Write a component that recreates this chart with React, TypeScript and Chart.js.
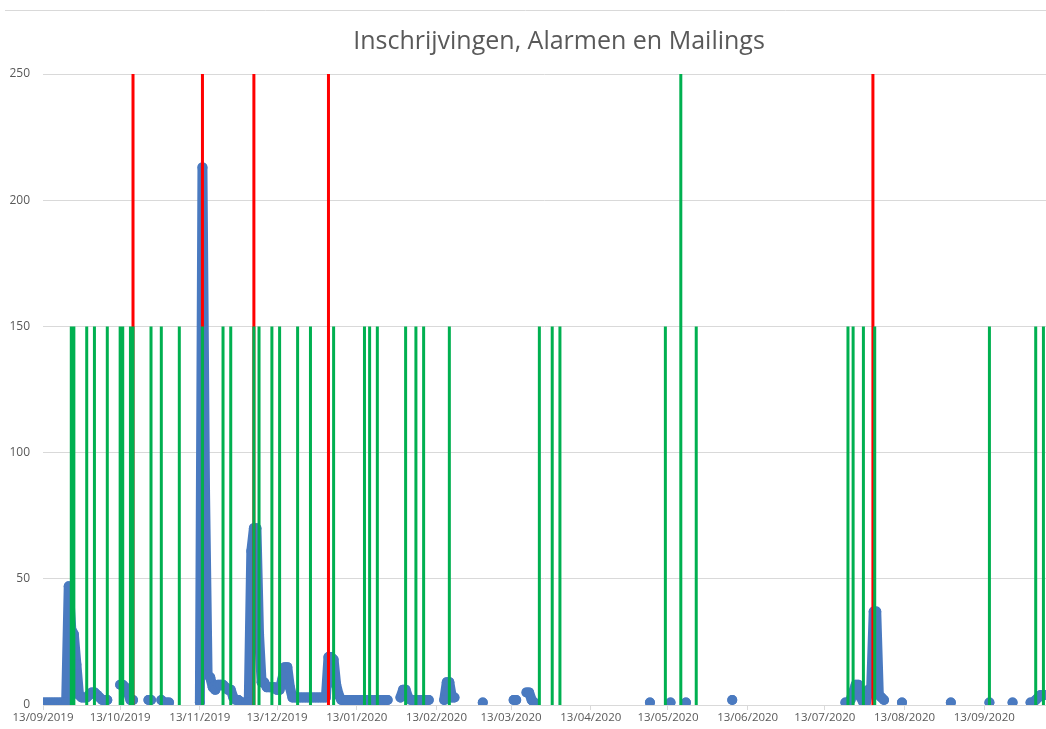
import React, { useEffect, useRef } from "react";
import { Chart, registerables } from "chart.js";

Chart.register(...registerables);

const TITLE = "Inschrijvingen, Alarmen en Mailings";

// x axis: days after 13/09/2019
const tickDays = [0, 30, 61, 91, 122, 153, 182, 213, 243, 274, 304, 335, 366];
const tickLabels = [
  "13/09/2019", "13/10/2019", "13/11/2019", "13/12/2019", "13/01/2020", "13/02/2020",
  "13/03/2020", "13/04/2020", "13/05/2020", "13/06/2020", "13/07/2020", "13/08/2020", "13/09/2020",
];
const yTicks = [0, 50, 100, 150, 200, 250];

// Inschrijvingen: runs of consecutive days (start day, daily counts)
const runStarts = [0, 30, 41, 46, 61, 139, 156, 171, 183, 188, 236, 244, 250, 268, 312, 334, 353, 368, 377, 384];
const runValues: number[][] = [
  [1, 1, 1, 1, 1, 1, 1, 1, 1, 1, 47, 30, 28, 16, 4, 3, 3, 3, 4, 5, 5, 4, 3, 2, 2, 2],
  [8, 8, 7, 5, 2, 2],
  [2, 2],
  [2, 1, 1, 1],
  [1, 213, 85, 12, 11, 7, 6, 8, 8, 8, 7, 6, 6, 3, 2, 2, 1, 1, 1, 1,
    61, 70, 70, 28, 9, 9, 7, 7, 7, 7, 6, 6, 10, 15, 15, 7,
    3, 3, 3, 3, 3, 3, 3, 3, 3, 3, 3, 3, 3, 3,
    19, 19, 18, 8, 4,
    2, 2, 2, 2, 2, 2, 2, 2, 2, 2, 2, 2, 2, 2, 2, 2, 2, 2, 2],
  [3, 6, 6, 3, 2, 2, 2, 2, 2, 2, 2, 2],
  [2, 9, 9, 3, 3],
  [1],
  [2, 2],
  [5, 5, 2, 1],
  [1],
  [1],
  [1],
  [2],
  [1, 1, 2, 5, 8, 8, 3, 1, 1, 6, 6, 37, 37, 4, 3, 2],
  [1],
  [1],
  [1],
  [1],
  [1, 1, 2, 3, 4, 4, 4],
];

// Mailings (green) and alarms (red)
const mailingDays = [11, 12, 17, 20, 25, 30, 31, 34, 35, 42, 46, 53, 62, 70, 73, 82, 84, 89, 92, 99, 104, 113,
  125, 127, 130, 141, 145, 148, 158, 193, 198, 201, 242, 248, 254, 313, 315, 319, 323.4, 368, 386, 389];
const mailingValues = [150, 150, 150, 150, 150, 150, 150, 150, 150, 150, 150, 150, 150, 150, 150, 150, 150, 150,
  150, 150, 150, 150, 150, 150, 150, 150, 150, 150, 150, 150, 150, 150, 150, 250, 150, 150, 150, 150, 150, 150, 150, 150];
const alarmDays = [35, 62, 82, 111, 322.7];
const alarmValues = [250, 250, 250, 250, 250];

const BLUE = "#4A7AC0";
const GREEN = "#00B050";
const RED = "#FF0000";
const GREY_TEXT = "#595959";
const GRID = "#d9d9d9";

function buildRuns() {
  const pts: { x: number; y: number | null }[] = [];
  runStarts.forEach((s, i) => {
    runValues[i].forEach((v, j) => pts.push({ x: s + j, y: v }));
    pts.push({ x: s + runValues[i].length - 0.5, y: null });
  });
  return pts;
}

function buildVerticals(days: number[], vals: number[]) {
  const pts: { x: number; y: number | null }[] = [];
  days.forEach((d, i) => {
    pts.push({ x: d, y: 0 });
    pts.push({ x: d, y: vals[i] });
    pts.push({ x: d, y: null });
  });
  return pts;
}

const framePlugin = {
  id: "frame",
  afterLayout(chart: any) {
    if (chart.titleBlock) {
      chart.titleBlock.left = 72;
      chart.titleBlock.right = chart.width;
    }
  },
  beforeDraw(chart: any) {
    const ctx = chart.ctx;
    ctx.save();
    ctx.strokeStyle = GRID;
    ctx.lineWidth = 1;
    ctx.beginPath();
    ctx.moveTo(5, 10.5);
    ctx.lineTo(chart.width, 10.5);
    ctx.stroke();
    ctx.restore();
  },
};

export default function App() {
  const ref = useRef<HTMLCanvasElement | null>(null);

  useEffect(() => {
    document.body.style.margin = "0";
    if (!ref.current) return;
    const chart = new Chart(ref.current, {
      type: "line",
      data: {
        datasets: [
          {
            label: "Mailings",
            data: buildVerticals(mailingDays, mailingValues),
            borderColor: GREEN,
            borderWidth: 3,
            pointRadius: 0,
            spanGaps: false,
            order: 0,
          },
          {
            label: "Alarmen",
            data: buildVerticals(alarmDays, alarmValues),
            borderColor: RED,
            borderWidth: 3,
            pointRadius: 0,
            spanGaps: false,
            order: 1,
          },
          {
            label: "Inschrijvingen",
            data: buildRuns(),
            borderColor: BLUE,
            backgroundColor: BLUE,
            borderWidth: 10,
            borderJoinStyle: "round",
            borderCapStyle: "round",
            pointRadius: 5,
            pointBorderWidth: 0,
            pointBackgroundColor: BLUE,
            pointHoverRadius: 5,
            spanGaps: false,
            clip: { left: 0, right: 0, top: 10, bottom: 0 },
            order: 2,
          } as any,
        ],
      },
      options: {
        animation: false,
        responsive: false,
        events: [],
        layout: { autoPadding: false, padding: 0 },
        plugins: {
          legend: { display: false },
          tooltip: { enabled: false },
          title: {
            display: true,
            text: TITLE,
            color: GREY_TEXT,
            font: { family: "'Open Sans'", size: 25, weight: "normal" },
            padding: { top: 27, bottom: 17 },
          },
        },
        scales: {
          x: {
            type: "linear",
            min: 0,
            max: 390,
            afterBuildTicks: (axis: any) => {
              axis.ticks = tickDays.map((v) => ({ value: v }));
            },
            afterFit: (axis: any) => {
              axis.height = 24;
              axis.paddingLeft = 0;
              axis.paddingRight = 0;
            },
            ticks: {
              autoSkip: false,
              maxRotation: 0,
              padding: 1,
              color: GREY_TEXT,
              font: { family: "'Open Sans'", size: 11.5 },
              callback: (value: any) => {
                const i = tickDays.indexOf(Number(value));
                return i >= 0 ? tickLabels[i] : "";
              },
            },
            grid: {
              display: true,
              drawOnChartArea: false,
              drawTicks: true,
              tickLength: 5,
              color: GRID,
            },
            border: { display: true, color: GRID },
          },
          y: {
            type: "linear",
            min: 0,
            max: 250,
            afterBuildTicks: (axis: any) => {
              axis.ticks = yTicks.map((v) => ({ value: v }));
            },
            afterFit: (axis: any) => {
              axis.width = 43;
            },
            ticks: {
              padding: 13,
              color: GREY_TEXT,
              font: { family: "'Open Sans'", size: 12 },
            },
            grid: { color: GRID, drawTicks: false, lineWidth: 1 },
            border: { display: false },
          },
        },
      },
      plugins: [framePlugin],
    } as any);
    return () => chart.destroy();
  }, []);

  return (
    <div style={{ width: 1046, height: 729, background: "#fff" }}>
      <canvas ref={ref} width={1046} height={729} style={{ display: "block" }} />
    </div>
  );
}
